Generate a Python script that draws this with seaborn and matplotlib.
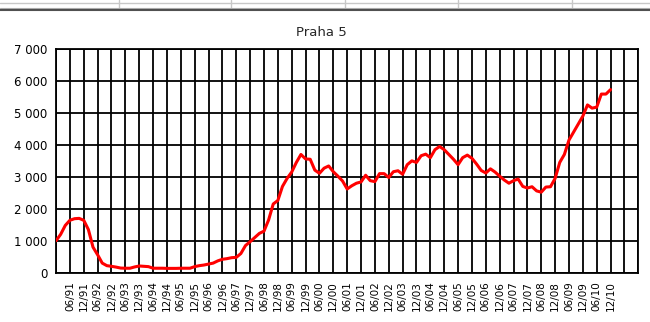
import matplotlib
matplotlib.use("Agg")
import matplotlib.pyplot as plt
from matplotlib.lines import Line2D
import pandas as pd
import seaborn as sns

# Monthly offsets from 12/1990, sampled every second month
months = list(range(0, 241, 2))

# Number of registered job seekers, Praha 5
values = [
    1000, 1200, 1480, 1640, 1690, 1700, 1640, 1350, 800, 560,
    300, 220, 200, 175, 145, 140, 140, 180, 210, 200,
    190, 140, 140, 140, 135, 135, 135, 140, 140, 140,
    190, 220, 240, 270, 300, 370, 420, 440, 470, 480,
    600, 850, 970, 1100, 1230, 1300, 1650, 2150, 2260, 2700,
    2950, 3150, 3450, 3700, 3560, 3550, 3210, 3110, 3270, 3340,
    3160, 3020, 2870, 2620, 2720, 2800, 2840, 3050, 2880, 2850,
    3100, 3100, 2980, 3160, 3190, 3080, 3380, 3500, 3450, 3660,
    3710, 3600, 3850, 3950, 3850, 3700, 3550, 3380, 3600, 3680,
    3580, 3400, 3200, 3120, 3250, 3150, 3020, 2900, 2800, 2880,
    2930, 2700, 2650, 2690, 2560, 2520, 2680, 2690, 2950, 3450,
    3700, 4150, 4400, 4650, 4900, 5250, 5150, 5180, 5590, 5590,
    5730,
]

tick_labels = [
    "06/91", "12/91", "06/92", "12/92", "06/93", "12/93", "06/94", "12/94",
    "06/95", "12/95", "06/96", "12/96", "06/97", "12/97", "06/98", "12/98",
    "06/99", "12/99", "06/00", "12/00", "06/01", "12/01", "06/02", "12/02",
    "06/03", "12/03", "06/04", "12/04", "06/05", "12/05", "06/06", "12/06",
    "06/07", "12/07", "06/08", "12/08", "06/09", "12/09", "06/10", "12/10",
]

y_ticks = [0, 1000, 2000, 3000, 4000, 5000, 6000, 7000]
y_labels = ["0", "1 000", "2 000", "3 000", "4 000", "5 000", "6 000", "7 000"]

df = pd.DataFrame({"month": months, "value": values})

sns.set_style("white")
plt.rcParams["font.family"] = ["DejaVu Sans"]

fig = plt.figure(figsize=(6.5, 3.22), dpi=100)
ax = fig.add_axes([0.0862, 0.1531, 0.982 - 0.0862, 0.8478 - 0.1531])

sns.lineplot(data=df, x="month", y="value", ax=ax, color="#ff0000",
             linewidth=2.2, zorder=3)

# half-year ticks: unlabeled at the origin and after the last label
x_ticks = list(range(0, 253, 6))
x_tick_text = [""] + tick_labels + ["", ""]
ax.set_xlim(0, 252)
ax.set_ylim(0, 7000)
ax.set_xticks(x_ticks)
ax.set_xticklabels(x_tick_text, rotation=90, fontsize=7.5)
ax.set_yticks(y_ticks)
ax.set_yticklabels(y_labels, fontsize=8.5)
ax.set_xlabel("")
ax.set_ylabel("")

ax.grid(True, color="black", linewidth=1.3)
ax.set_axisbelow(True)
ax.tick_params(axis="both", direction="out", length=4, width=1.3,
               color="black", pad=2, labelcolor="black")
for side in ["left", "right", "top", "bottom"]:
    ax.spines[side].set_visible(True)
    ax.spines[side].set_color("black")
    ax.spines[side].set_linewidth(1.3)

fig.text(0.495, 0.898, "Praha 5", ha="center", va="center", fontsize=9.5)

# spreadsheet cell borders along the top edge
fig.add_artist(Line2D([0, 1], [1 - 3 / 322, 1 - 3 / 322],
                      color="#c8c8c8", linewidth=1.0))
for xp in [119, 231, 345, 458, 572]:
    fig.add_artist(Line2D([xp / 650, xp / 650], [1.0, 1 - 8 / 322],
                          color="#c8c8c8", linewidth=1.0))
fig.add_artist(Line2D([0, 1], [1 - 7.5 / 322, 1 - 7.5 / 322],
                      color="#b0b0b0", linewidth=0.8))
fig.add_artist(Line2D([0, 1], [1 - 10 / 322, 1 - 10 / 322],
                      color="#505050", linewidth=1.5))

fig.savefig("out.png", dpi=100)
